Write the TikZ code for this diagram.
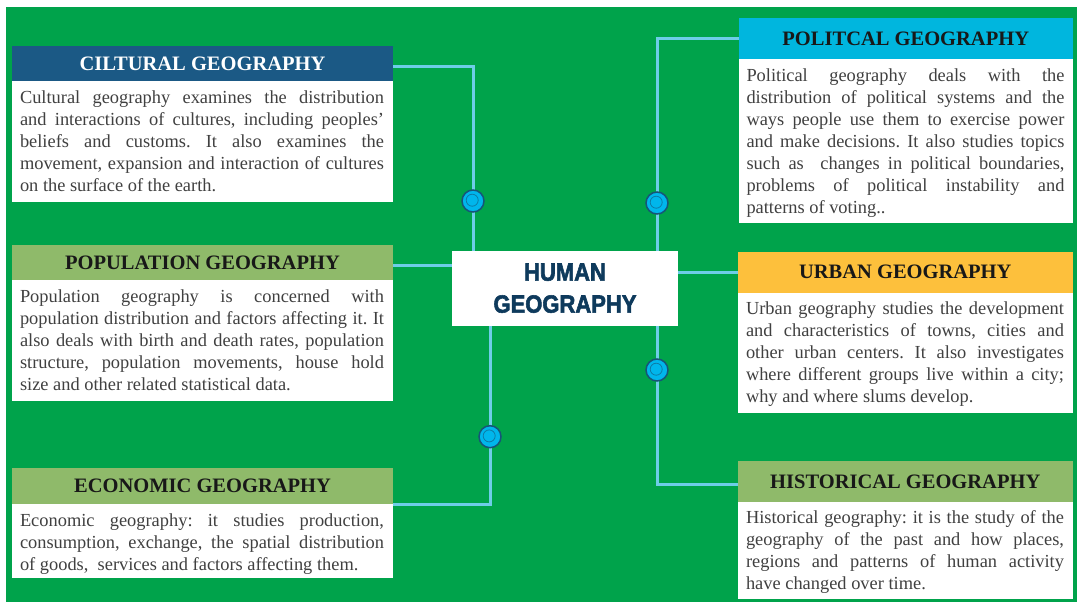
\documentclass[tikz,border=0pt]{standalone}
\usepackage{fontspec}
\setmainfont{Liberation Serif}
\newfontfamily\humfont{Liberation Sans}[UprightFont=* Bold, FakeStretch=0.88, FakeBold=2.2]
\frenchspacing
\definecolor{bggreen}{RGB}{0,163,75}
\definecolor{cultblue}{RGB}{27,89,133}
\definecolor{olivehd}{RGB}{143,186,106}
\definecolor{polcyan}{RGB}{0,182,222}
\definecolor{urbgold}{RGB}{253,192,60}
\definecolor{connblue}{RGB}{110,205,232}
\definecolor{bodygray}{RGB}{64,64,64}
\definecolor{titledark}{RGB}{24,24,24}
\definecolor{humnavy}{RGB}{14,58,92}
\definecolor{bubfill}{RGB}{0,182,236}
\definecolor{bubedge}{RGB}{22,85,120}
\tikzset{
  hdrbox/.style={rectangle, anchor=north west, inner sep=0pt, outer sep=0pt,
    font=\fontsize{20.5}{24}\selectfont\bfseries, text=titledark},
  bodybox/.style={rectangle, anchor=north west, fill=white, inner sep=0pt, outer sep=0pt},
  bodytext/.style={anchor=base west, inner sep=0pt, outer sep=0pt, align=justify,
    text=bodygray, font=\fontsize{18.4}{22}\selectfont\frenchspacing},
  leftw/.style={minimum width=381pt},
  rightw/.style={minimum width=334.5pt},
  humbox/.style={rectangle, fill=white, inner sep=0pt, outer sep=0pt,
    minimum width=226pt, minimum height=75pt, align=center, text=humnavy,
    font=\fontsize{25}{32}\selectfont\humfont},
  conn/.style={draw=connblue, line width=3pt},
  bubble/.style={circle, minimum size=22pt, inner sep=0pt, fill=bubfill,
    draw=bubedge, line width=1.5pt,
    path picture={\draw[bubedge, line width=0.8pt, opacity=0.6]
      ([shift={(-0.8pt,0.8pt)}]path picture bounding box.center) circle (6pt);}}
}
\begin{document}
\begin{tikzpicture}[x=1pt,y=-1pt]
\useasboundingbox (0,0) rectangle (1077,603);
\fill[bggreen] (6,7) rectangle (1077,602);

% ---------- left column ----------
\node[hdrbox, leftw, minimum height=35.3pt, fill=cultblue, text=white] (cultH) at (12,45.7) {CILTURAL GEOGRAPHY};
\node[bodybox, leftw, minimum height=120.5pt] (cultB) at (cultH.south west) {};
\node[bodytext, text width=364pt] (cultT) at ([xshift=8pt,yshift=-22pt]cultB.north west)
 {Cultural geography examines the distribution\linebreak
  and interactions of cultures, including peoples’\linebreak
  beliefs and customs. It also examines the\linebreak
  movement, expansion and interaction of cultures\linebreak
  on the surface of the earth.};

\node[hdrbox, leftw, minimum height=35pt, fill=olivehd] (popH) at (12,245) {POPULATION GEOGRAPHY};
\node[bodybox, leftw, minimum height=120.7pt] (popB) at (popH.south west) {};
\node[bodytext, text width=364pt] (popT) at ([xshift=8pt,yshift=-22pt]popB.north west)
 {Population geography is concerned with\linebreak
  population distribution and factors affecting it. It\linebreak
  also deals with birth and death rates, population\linebreak
  structure, population movements, house hold\linebreak
  size and other related statistical data.};

\node[hdrbox, leftw, minimum height=35.7pt, fill=olivehd] (econH) at (12,468.3) {ECONOMIC GEOGRAPHY};
\node[bodybox, leftw, minimum height=74.3pt] (econB) at (econH.south west) {};
\node[bodytext, text width=364pt] (econT) at ([xshift=8pt,yshift=-22pt]econB.north west)
 {Economic geography: it studies production,\linebreak
  consumption, exchange, the spatial distribution\linebreak
  of goods, ~services and factors affecting them.};

% ---------- right column ----------
\node[hdrbox, rightw, minimum height=41.3pt, fill=polcyan] (polH) at (738.5,17.7) {POLITCAL GEOGRAPHY};
\node[bodybox, rightw, minimum height=164pt] (polB) at (polH.south west) {};
\node[bodytext, text width=318pt] (polT) at ([xshift=8pt,yshift=-22pt]polB.north west)
 {Political geography deals with the\linebreak
  distribution of political systems and the\linebreak
  ways people use them to exercise power\linebreak
  and make decisions. It also studies topics\linebreak
  such as ~changes in political boundaries,\linebreak
  problems of political instability and\linebreak
  patterns of voting..};

\node[hdrbox, rightw, minimum height=41pt, fill=urbgold] (urbH) at (738,251.7) {URBAN GEOGRAPHY};
\node[bodybox, rightw, minimum height=120.3pt] (urbB) at (urbH.south west) {};
\node[bodytext, text width=318pt] (urbT) at ([xshift=8pt,yshift=-22pt]urbB.north west)
 {Urban geography studies the development\linebreak
  and characteristics of towns, cities and\linebreak
  other urban centers. It also investigates\linebreak
  where different groups live within a city;\linebreak
  why and where slums develop.};

\node[hdrbox, rightw, minimum height=40.7pt, fill=olivehd] (histH) at (738,461) {HISTORICAL GEOGRAPHY};
\node[bodybox, rightw, minimum height=97.3pt] (histB) at (histH.south west) {};
\node[bodytext, text width=318pt] (histT) at ([xshift=8pt,yshift=-22pt]histB.north west)
 {Historical geography: it is the study of the\linebreak
  geography of the past and how places,\linebreak
  regions and patterns of human activity\linebreak
  have changed over time.};

% ---------- centre ----------
\node[humbox] (hum) at (565,288.2) {HUMAN\\GEOGRAPHY};

% ---------- connectors ----------
\coordinate (c1) at (473,201);
\coordinate (c3) at (490,436.7);
\coordinate (c4) at (657,203);
\coordinate (c6) at (657,370);

\draw[conn] ([yshift=-3.5pt]cultH.east) -| (c1) -- (c1 |- hum.north);
\draw[conn] ([yshift=-3pt]popH.east) -- ([yshift=-3pt]popH.east -| hum.west);
\draw[conn] (econH.south east) -| (c3) -- (c3 |- hum.south);
\draw[conn] (polH.west) -| (c4) -- (c4 |- hum.north);
\draw[conn] (urbH.west) -- (urbH.west -| hum.east);
\draw[conn] ([yshift=-3pt]histH.west) -| (c6) -- (c6 |- hum.south);

\node[bubble] (b1) at (c1) {};
\node[bubble] (b3) at (c3) {};
\node[bubble] (b4) at (c4) {};
\node[bubble] (b6) at (c6) {};
\end{tikzpicture}
\end{document}
